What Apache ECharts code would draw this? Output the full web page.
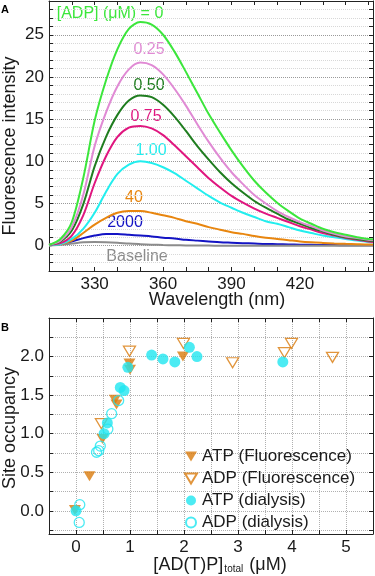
<!DOCTYPE html>
<html>
<head>
<meta charset="utf-8">
<script src="https://cdn.jsdelivr.net/npm/echarts@6.0.0/dist/echarts.min.js"></script>
<style>
html, body { margin: 0; padding: 0; background: #fff; }
#main { width: 375px; height: 576px; }
</style>
</head>
<body>
<div id="main"></div>
<script>
var FONT = '"Liberation Sans", Arial, sans-serif';

// panel A: emission spectra, read every 5 nm
var wavelength = [310, 315, 320, 325, 330, 335, 340, 345, 350, 355, 360, 365, 370, 375, 380,
    385, 390, 395, 400, 405, 410, 415, 420, 425, 430, 435, 440, 445, 450, 452];
var adp0 = [0.1, 0.8, 2.8, 8.0, 14.8, 19.6, 23.3, 25.7, 26.5, 26.2, 25.0, 23.0, 20.6, 18.1, 15.6,
    13.4, 11.3, 9.4, 7.7, 6.3, 5.1, 4.1, 3.2, 2.6, 2.0, 1.6, 1.3, 1.0, 0.8, 0.75];
var adp025 = [0.1, 0.6, 2.2, 6.0, 11.8, 15.8, 18.9, 20.9, 21.7, 21.4, 20.3, 18.6, 16.6, 14.4, 12.3,
    10.4, 8.7, 7.3, 6.0, 5.0, 4.1, 3.4, 2.8, 2.3, 1.8, 1.4, 1.1, 0.9, 0.7, 0.65];
var adp050 = [0.1, 0.5, 1.8, 4.9, 9.4, 12.9, 15.5, 17.2, 17.8, 17.6, 16.7, 15.3, 13.6, 11.8, 10.2,
    8.7, 7.4, 6.3, 5.3, 4.5, 3.8, 3.1, 2.6, 2.1, 1.7, 1.3, 1.0, 0.8, 0.6, 0.55];
var adp075 = [0.1, 0.3, 1.2, 3.6, 7.4, 10.6, 12.9, 14.0, 14.2, 13.9, 13.1, 11.9, 10.6, 9.3, 8.0,
    6.9, 5.9, 5.1, 4.4, 3.8, 3.3, 2.8, 2.3, 1.9, 1.5, 1.2, 0.9, 0.7, 0.5, 0.45];
var adp100 = [0.05, 0.2, 0.8, 2.0, 3.9, 6.4, 8.5, 9.6, 10.0, 9.8, 9.3, 8.6, 7.7, 6.8, 5.9,
    5.1, 4.5, 3.9, 3.4, 2.9, 2.6, 2.2, 1.8, 1.5, 1.2, 1.0, 0.8, 0.6, 0.45, 0.4];
var adp40 = [0.05, 0.2, 0.6, 1.5, 2.5, 3.3, 3.9, 4.1, 4.1, 3.9, 3.6, 3.3, 2.9, 2.6, 2.2,
    1.9, 1.6, 1.4, 1.15, 0.95, 0.8, 0.65, 0.5, 0.4, 0.33, 0.27, 0.22, 0.18, 0.15, 0.15];
var adp2000 = [0.05, 0.2, 0.5, 0.9, 1.2, 1.4, 1.4, 1.3, 1.2, 1.1, 0.95, 0.85, 0.7, 0.6, 0.5,
    0.4, 0.35, 0.3, 0.25, 0.2, 0.18, 0.15, 0.12, 0.1, 0.08, 0.07, 0.06, 0.05, 0.05, 0.05];
var baseline = [0.0, 0.1, 0.25, 0.4, 0.45, 0.42, 0.35, 0.25, 0.18, 0.12, 0.08, 0.05, 0.03, 0.02, 0.01,
    0, 0, 0, 0, 0, 0, 0, 0, 0, 0, 0, 0, 0, 0, 0];

var spectra = [
    { name: '2000', data: adp2000, color: '#1414c4' },
    { name: 'Baseline', data: baseline, color: '#8c8c8c' },
    { name: '40', data: adp40, color: '#e8860f' },
    { name: '1.00', data: adp100, color: '#22eeee' },
    { name: '0.75', data: adp075, color: '#e0167f' },
    { name: '0.50', data: adp050, color: '#1f7d1f' },
    { name: '0.25', data: adp025, color: '#e08ad4' },
    { name: '0', data: adp0, color: '#3ce63c' }
];

var aXTicks = [310, 320, 330, 340, 350, 360, 370, 380, 390, 400, 410, 420, 430, 440, 450];
var aXLabels = [330, 360, 390, 420];
var aYTicks = [];
for (var t = -2; t <= 28; t++) aYTicks.push(t);
var aYLabels = [0, 5, 10, 15, 20, 25];

// panel B: site occupancy
var atpFluorescence = [[-0.02, 0.01], [0.25, 0.45], [0.49, 0.93], [0.72, 1.44], [0.75, 1.38],
    [0.99, 1.91], [1.0, 1.83], [1.98, 2.0]];
var adpFluorescence = [[0.47, 1.13], [0.99, 2.07], [1.99, 2.17], [2.9, 1.92], [3.86, 2.05],
    [3.99, 2.17], [4.75, 1.99]];
var atpDialysis = [[0.0, 0.0], [0.52, 1.0], [0.58, 1.14], [0.82, 1.6], [0.89, 1.56], [0.96, 1.86],
    [1.4, 2.02], [1.61, 1.97], [1.83, 1.93], [2.1, 2.12], [2.24, 2.0], [3.83, 1.93]];
var adpDialysis = [[0.07, 0.08], [0.06, -0.15], [0.38, 0.76], [0.42, 0.78], [0.45, 0.84],
    [0.59, 1.06], [0.66, 1.26], [0.79, 1.43]];

var bXTicks = [0, 0.5, 1, 1.5, 2, 2.5, 3, 3.5, 4, 4.5, 5];
var bXLabels = [0, 1, 2, 3, 4, 5];
var bYTicks = [-0.25, 0, 0.25, 0.5, 0.75, 1, 1.25, 1.5, 1.75, 2, 2.25];
var bYLabels = [0, 0.5, 1, 1.5, 2];

var ORANGE = '#d97a0b';
var CYAN = '#1fe6f0';
var DOWN = 'path://M0,0 L12,0 L6,10 Z';

var textColor = '#1a1a1a';
var lineBlack = { color: '#222', width: 1 };

function axisX(grid, pos, min, max, ticks, labels, split) {
    return {
        type: 'value', gridIndex: grid, position: pos, min: min, max: max,
        axisLine: { show: true, onZero: false, lineStyle: lineBlack },
        axisTick: { show: true, inside: true, length: 4, customValues: ticks, lineStyle: lineBlack },
        axisLabel: labels ? { customValues: labels, margin: 5, color: textColor, fontSize: 17, fontFamily: FONT } : { show: false },
        splitLine: split || { show: false }
    };
}
function axisY(grid, pos, min, max, ticks, labels, split, fmt) {
    return {
        type: 'value', gridIndex: grid, position: pos, min: min, max: max,
        axisLine: { show: true, onZero: false, lineStyle: lineBlack },
        axisTick: { show: true, inside: true, length: 4, customValues: ticks, lineStyle: lineBlack },
        axisLabel: labels ? { customValues: labels, margin: 5, color: textColor, fontSize: 17, fontFamily: FONT, formatter: fmt } : { show: false },
        splitLine: split || { show: false }
    };
}

var series = spectra.map(function (s) {
    return {
        name: s.name, type: 'line', xAxisIndex: 0, yAxisIndex: 0,
        data: wavelength.map(function (w, i) { return [w, s.data[i]]; }),
        symbol: 'none', smooth: 0.3,
        lineStyle: { color: s.color, width: 2 },
        itemStyle: { color: s.color },
        silent: true
    };
});

series.push({
    name: 'ATP (Fluorescence)', type: 'scatter', xAxisIndex: 2, yAxisIndex: 2,
    data: atpFluorescence, symbol: DOWN, symbolSize: [12, 10],
    itemStyle: { color: ORANGE }
});
series.push({
    name: 'ADP (Fluorescence)', type: 'scatter', xAxisIndex: 2, yAxisIndex: 2,
    data: adpFluorescence, symbol: DOWN, symbolSize: [12, 10],
    itemStyle: { color: 'rgba(255,255,255,0)', borderColor: ORANGE, borderWidth: 1.3 }
});
series.push({
    name: 'ATP (dialysis)', type: 'scatter', xAxisIndex: 2, yAxisIndex: 2,
    data: atpDialysis, symbol: 'circle', symbolSize: 11,
    itemStyle: { color: CYAN }
});
series.push({
    name: 'ADP (dialysis)', type: 'scatter', xAxisIndex: 2, yAxisIndex: 2,
    data: adpDialysis, symbol: 'circle', symbolSize: 10,
    itemStyle: { color: 'rgba(255,255,255,0)', borderColor: CYAN, borderWidth: 1.3 }
});

function label(text, x, y, color) {
    return {
        type: 'text', x: x, y: y, silent: true,
        style: { text: text, fill: color, font: '16px ' + FONT, align: 'center', verticalAlign: 'middle' }
    };
}

var option = {
    animation: false,
    backgroundColor: '#fff',
    grid: [
        { left: 49, top: 1, width: 324, height: 270 },
        { left: 49, top: 318, width: 324, height: 216 }
    ],
    xAxis: [
        axisX(0, 'bottom', 310, 452, aXTicks, aXLabels),
        axisX(0, 'top', 310, 452, aXTicks, null),
        axisX(1, 'bottom', -0.5, 5.5, bXTicks, bXLabels,
            { show: true, lineStyle: { color: '#b0b0b0', type: 'dotted', width: 1 } }),
        axisX(1, 'top', -0.5, 5.5, bXTicks, null)
    ],
    yAxis: [
        axisY(0, 'left', -3, 29, aYTicks, aYLabels,
            { show: true, lineStyle: { color: ['#d8d8d8', '#d8d8d8', '#9a9a9a', '#d8d8d8', '#d8d8d8'], type: 'dotted', width: 1 } }),
        axisY(0, 'right', -3, 29, aYTicks, null),
        axisY(1, 'left', -0.3, 2.5, bYTicks, bYLabels,
            { show: true, lineStyle: { color: '#b0b0b0', type: 'dotted', width: 1 } },
            function (v) { return v.toFixed(1); }),
        axisY(1, 'right', -0.3, 2.5, bYTicks, null)
    ],
    legend: {
        data: ['ATP (Fluorescence)', 'ADP (Fluorescence)', 'ATP (dialysis)', 'ADP (dialysis)'],
        orient: 'vertical', left: 179, top: 443,
        itemWidth: 12, itemHeight: 10, itemGap: 5, itemTextGap: 15,
        selectedMode: false,
        textStyle: { fontSize: 17, color: textColor, fontFamily: FONT }
    },
    graphic: [
        { type: 'text', x: 5, y: 10, style: { text: 'A', font: 'bold 11px ' + FONT, fill: '#000', align: 'center', verticalAlign: 'middle' } },
        { type: 'text', x: 5, y: 328, style: { text: 'B', font: 'bold 11px ' + FONT, fill: '#000', align: 'center', verticalAlign: 'middle' } },
        label('[ADP] (\u03bcM) = 0', 110, 14, '#3ce63c'),
        label('0.25', 149, 50, '#e08ad4'),
        label('0.50', 149, 86, '#1f7d1f'),
        label('0.75', 146, 117, '#e0167f'),
        label('1.00', 151, 151, '#22eeee'),
        label('40', 134, 198, '#e8860f'),
        label('2000', 125, 223, '#1414c4'),
        label('Baseline', 137, 257, '#8c8c8c'),
        { type: 'text', x: 217, y: 300, style: { text: 'Wavelength (nm)', font: '18px ' + FONT, fill: textColor, align: 'center', verticalAlign: 'middle' } },
        { type: 'text', x: 10, y: 146, rotation: Math.PI / 2, style: { text: 'Fluorescence intensity', font: '18px ' + FONT, fill: textColor, align: 'center', verticalAlign: 'middle' } },
        { type: 'text', x: 10, y: 428, rotation: Math.PI / 2, style: { text: 'Site occupancy', font: '18px ' + FONT, fill: textColor, align: 'center', verticalAlign: 'middle' } },
        {
            type: 'text', x: 220, y: 565,
            style: {
                text: '[AD(T)P]{sub|total} (\u03bcM)', font: '18px ' + FONT, fill: textColor,
                align: 'center', verticalAlign: 'middle',
                rich: { sub: { fontSize: 10, fontFamily: FONT, fill: textColor, padding: [8, 1, 0, 1] } }
            }
        }
    ],
    series: series
};

var chart = echarts.init(document.getElementById('main'), null, { renderer: 'canvas' });
chart.setOption(option);
</script>
</body>
</html>
